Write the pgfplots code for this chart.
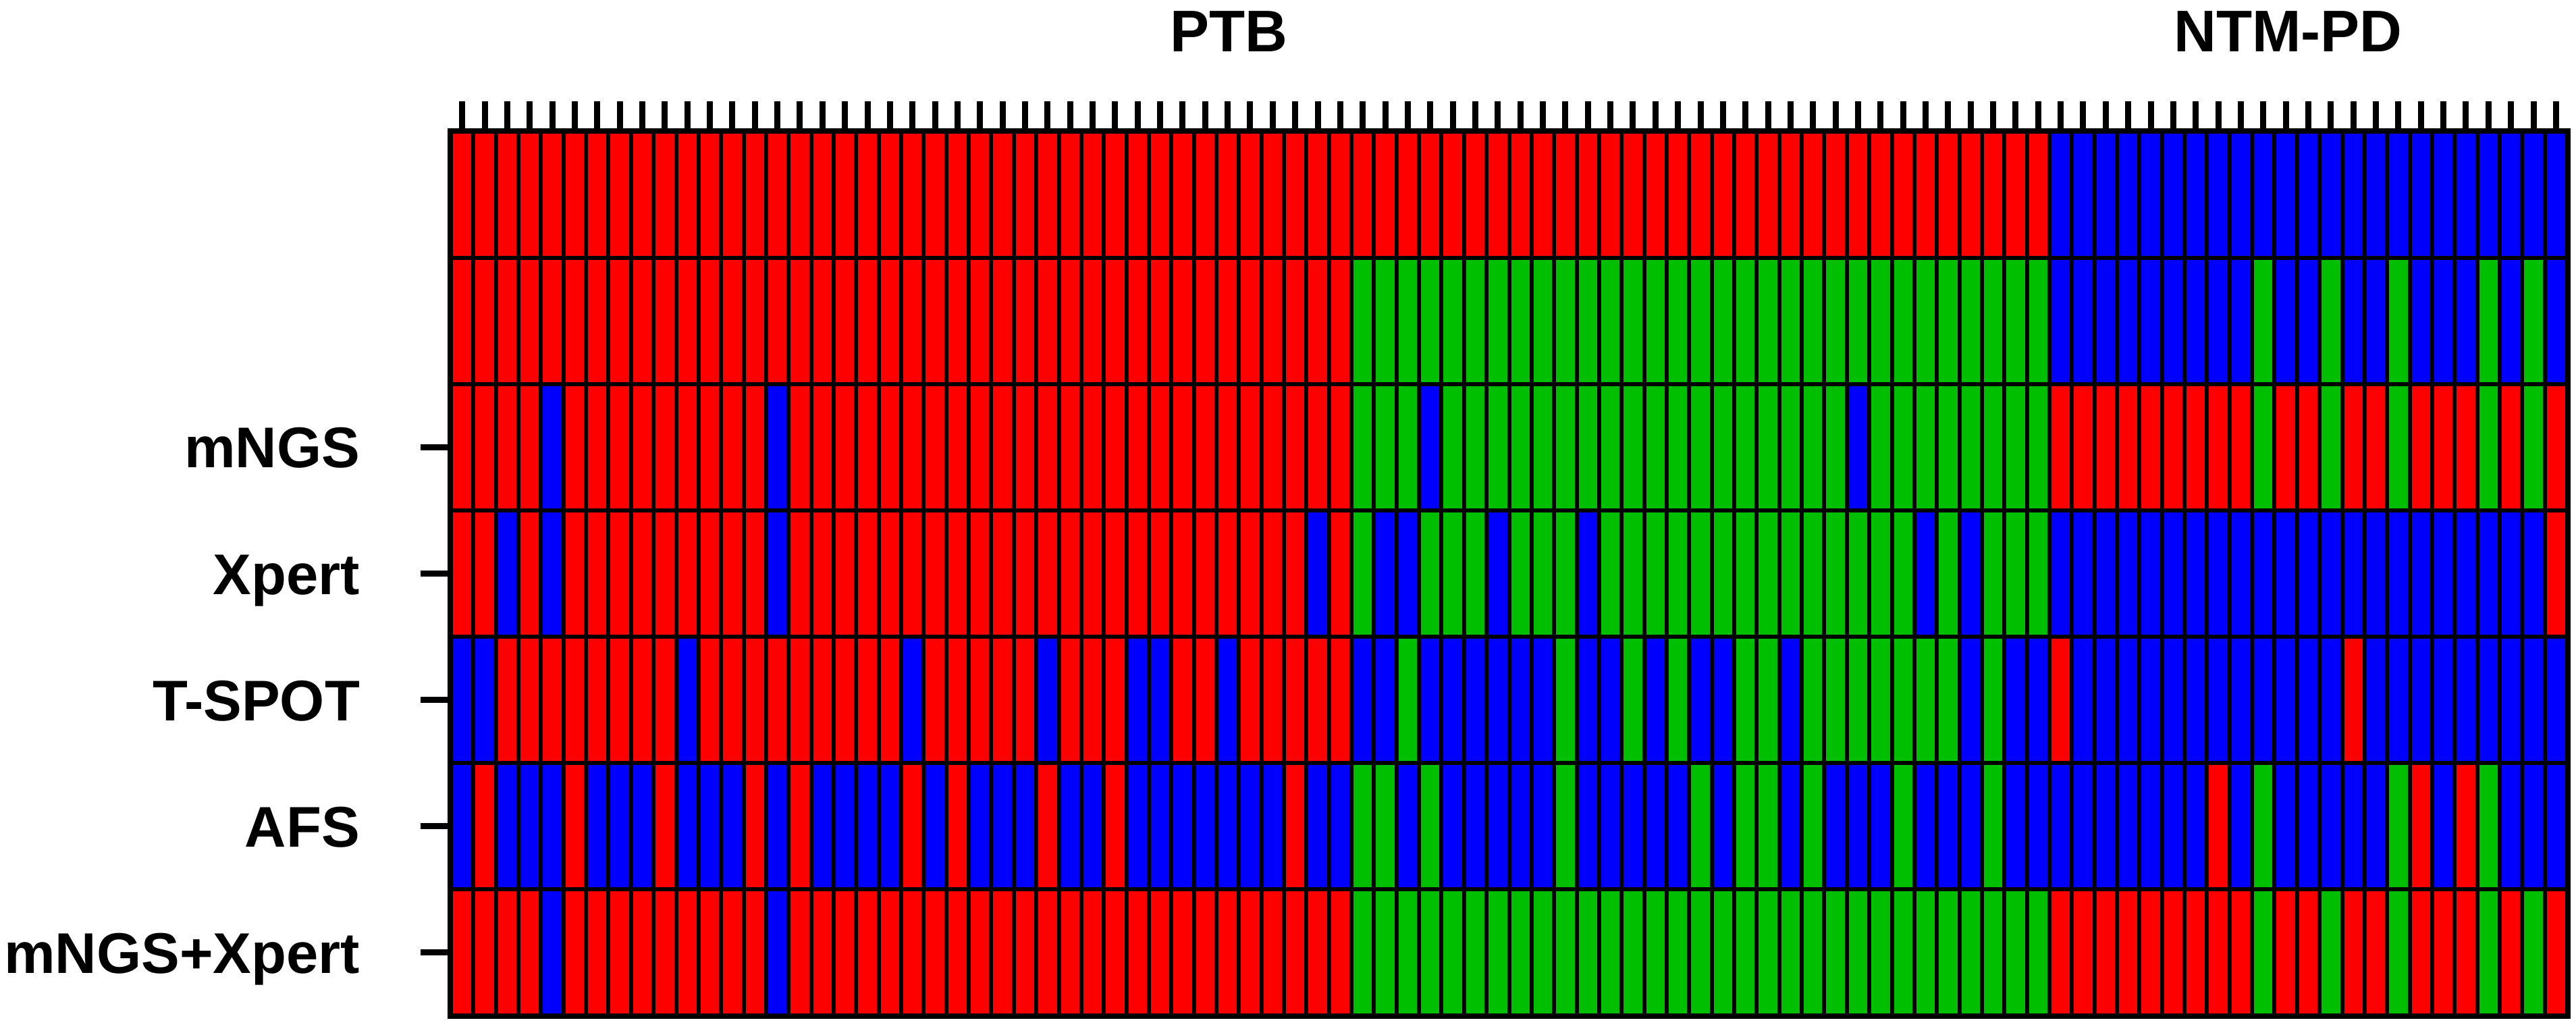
\documentclass[border=0pt]{standalone}
\usepackage{fontspec}
\setmainfont{Liberation Sans}
\usepackage{pgfplots}
\usepackage{pgfplotstable}
\pgfplotsset{compat=1.18}
\definecolor{cr}{RGB}{255,0,0}
\definecolor{cg}{RGB}{0,191,0}
\definecolor{cb}{RGB}{0,0,255}
\pgfdeclareplotmark{cell}{\pgfpathrectangle{\pgfqpoint{-1.6675pt}{-9.35pt}}{\pgfqpoint{3.335pt}{18.7pt}}\pgfusepathqfillstroke}
% 0 = red, 1 = green, 2 = blue
\pgfplotstableread{
x a b m p t f c
1 0 0 0 0 2 2 0
2 0 0 0 0 2 0 0
3 0 0 0 2 0 2 0
4 0 0 0 0 0 2 0
5 0 0 2 2 0 2 2
6 0 0 0 0 0 0 0
7 0 0 0 0 0 2 0
8 0 0 0 0 0 2 0
9 0 0 0 0 0 2 0
10 0 0 0 0 0 0 0
11 0 0 0 0 2 2 0
12 0 0 0 0 0 2 0
13 0 0 0 0 0 2 0
14 0 0 0 0 0 0 0
15 0 0 2 2 0 2 2
16 0 0 0 0 0 0 0
17 0 0 0 0 0 2 0
18 0 0 0 0 0 2 0
19 0 0 0 0 0 2 0
20 0 0 0 0 0 2 0
21 0 0 0 0 2 0 0
22 0 0 0 0 0 2 0
23 0 0 0 0 0 0 0
24 0 0 0 0 0 2 0
25 0 0 0 0 0 2 0
26 0 0 0 0 0 2 0
27 0 0 0 0 2 0 0
28 0 0 0 0 0 2 0
29 0 0 0 0 0 2 0
30 0 0 0 0 0 0 0
31 0 0 0 0 2 2 0
32 0 0 0 0 2 2 0
33 0 0 0 0 0 2 0
34 0 0 0 0 0 2 0
35 0 0 0 0 2 2 0
36 0 0 0 0 0 2 0
37 0 0 0 0 0 2 0
38 0 0 0 0 0 0 0
39 0 0 0 2 0 2 0
40 0 0 0 0 0 2 0
41 0 1 1 1 2 1 1
42 0 1 1 2 2 1 1
43 0 1 1 2 1 2 1
44 0 1 2 1 2 1 1
45 0 1 1 1 2 2 1
46 0 1 1 1 2 2 1
47 0 1 1 2 2 2 1
48 0 1 1 1 2 2 1
49 0 1 1 1 2 2 1
50 0 1 1 1 1 1 1
51 0 1 1 2 2 2 1
52 0 1 1 1 2 2 1
53 0 1 1 1 1 2 1
54 0 1 1 1 2 2 1
55 0 1 1 1 1 2 1
56 0 1 1 1 2 1 1
57 0 1 1 1 2 2 1
58 0 1 1 1 1 1 1
59 0 1 1 1 1 1 1
60 0 1 1 1 2 2 1
61 0 1 1 1 1 1 1
62 0 1 1 1 1 2 1
63 0 1 2 1 1 2 1
64 0 1 1 1 1 2 1
65 0 1 1 1 1 1 1
66 0 1 1 2 1 2 1
67 0 1 1 1 1 2 1
68 0 1 1 2 2 2 1
69 0 1 1 1 1 1 1
70 0 1 1 1 2 2 1
71 0 1 1 1 2 2 1
72 2 2 0 2 0 2 0
73 2 2 0 2 2 2 0
74 2 2 0 2 2 2 0
75 2 2 0 2 2 2 0
76 2 2 0 2 2 2 0
77 2 2 0 2 2 2 0
78 2 2 0 2 2 2 0
79 2 2 0 2 2 0 0
80 2 2 0 2 2 2 0
81 2 1 1 2 2 1 1
82 2 2 0 2 2 2 0
83 2 2 0 2 2 2 0
84 2 1 1 2 2 2 1
85 2 2 0 2 0 2 0
86 2 2 0 2 2 2 0
87 2 1 1 2 2 1 1
88 2 2 0 2 2 0 0
89 2 2 0 2 2 2 0
90 2 2 0 2 2 0 0
91 2 1 1 2 2 1 1
92 2 2 0 2 2 2 0
93 2 1 1 2 2 2 1
94 2 2 0 0 2 2 0
}\data
\pgfplotsset{cellrow/.style={scatter, only marks, mark=cell, scatter src=explicit symbolic,
  mark options={line width=0.6pt, draw=black},
  scatter/classes={0={draw=black,fill=cr},1={draw=black,fill=cg},2={draw=black,fill=cb}}}}
\begin{document}
\begin{tikzpicture}
\begin{axis}[
  name=ax,
  scale only axis, width=313.5pt, height=130.9pt,
  xmin=0.5, xmax=94.5, ymin=0.5, ymax=7.5,
  axis on top, clip=false,
  axis line style={line width=1pt, black},
  xtick={1,...,94}, xticklabels={}, xtick pos=right,
  ytick={1,2,3,4,5}, yticklabels={mNGS+Xpert,AFS,T-SPOT,Xpert,mNGS}, ytick pos=left,
  tick align=outside, major tick length=4.5pt,
  tick style={line width=0.9pt, black},
  yticklabel style={font=\fontsize{8.5}{10}\selectfont\bfseries, inner sep=0pt, xshift=-8.8pt, text height=6.09pt, text depth=0pt},
]
\addplot[cellrow] table[x=x, y expr=7, meta=a] {\data};
\addplot[cellrow] table[x=x, y expr=6, meta=b] {\data};
\addplot[cellrow] table[x=x, y expr=5, meta=m] {\data};
\addplot[cellrow] table[x=x, y expr=4, meta=p] {\data};
\addplot[cellrow] table[x=x, y expr=3, meta=t] {\data};
\addplot[cellrow] table[x=x, y expr=2, meta=f] {\data};
\addplot[cellrow] table[x=x, y expr=1, meta=c] {\data};
\node[anchor=base, font=\fontsize{8.7}{10}\selectfont\bfseries, yshift=11.9pt] at (axis cs:35.06,7.5) {PTB};
\node[anchor=base, font=\fontsize{8.7}{10}\selectfont\bfseries, yshift=11.9pt] at (axis cs:82.1,7.5) {NTM-PD};
\end{axis}
\pgfresetboundingbox
\path[use as bounding box] ([shift={(-66.8pt,-2.2pt)}]ax.south west) rectangle ([shift={(1.3pt,19.5pt)}]ax.north east);
\end{tikzpicture}
\end{document}
